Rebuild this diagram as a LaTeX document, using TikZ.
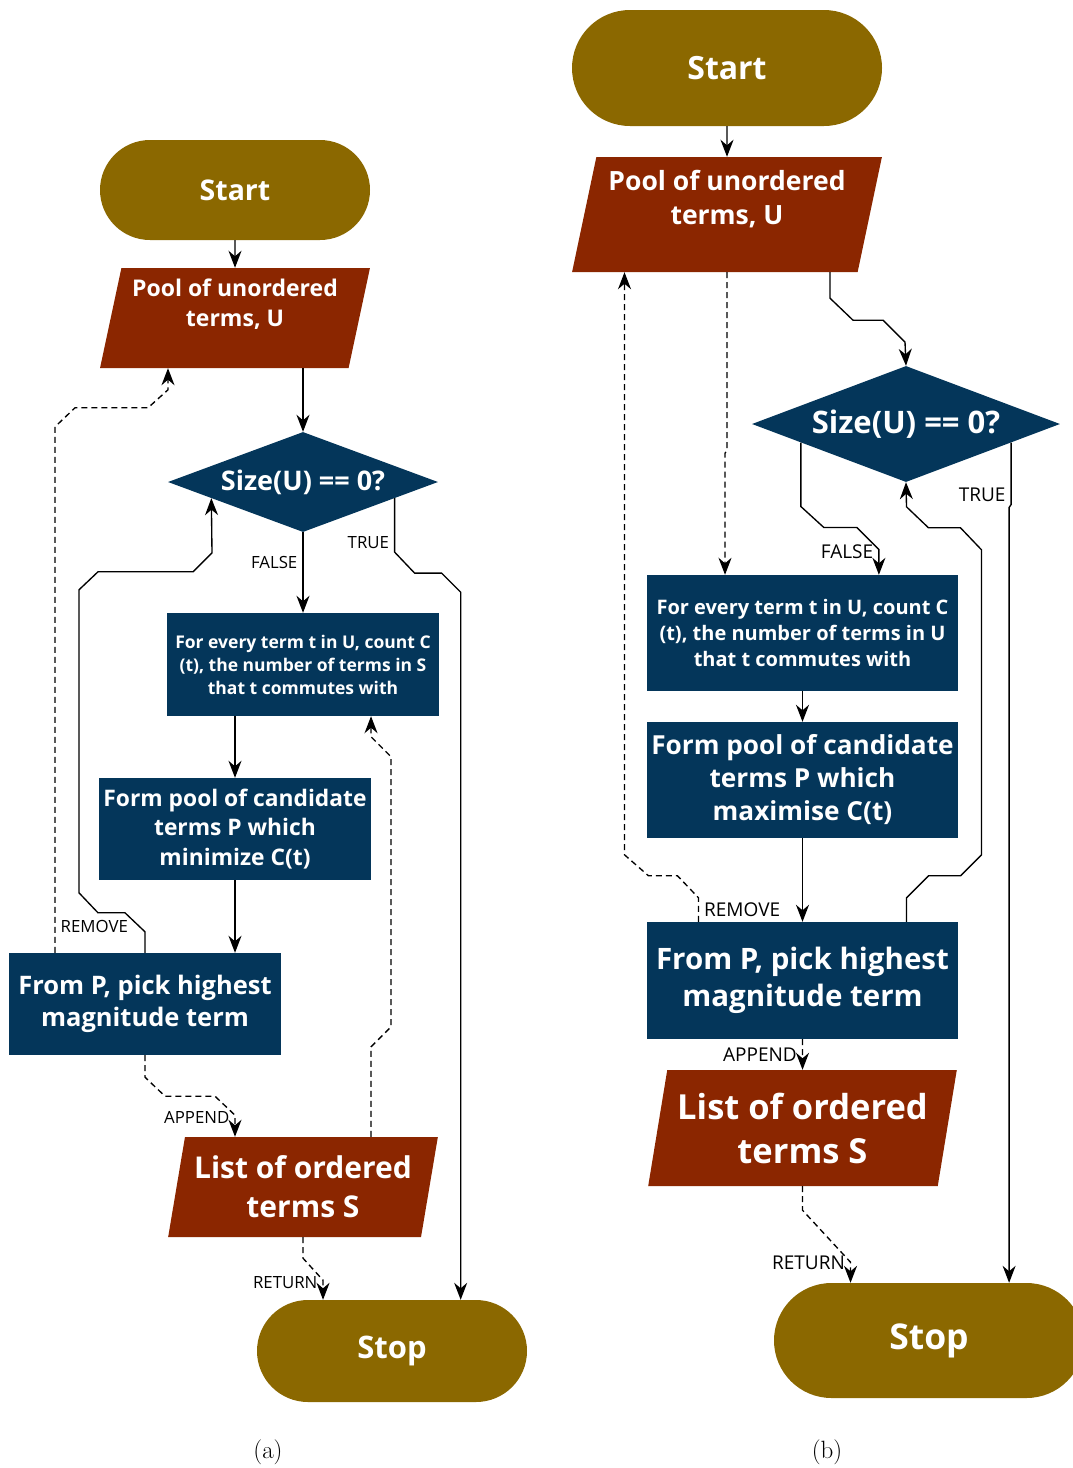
\documentclass[tikz,border=0pt]{standalone}
\usepackage{fontspec}
\setsansfont{Open Sans}
\usetikzlibrary{positioning}
\usetikzlibrary{shapes.misc, shapes.geometric, arrows.meta}

\definecolor{termgold}{RGB}{139,104,0}
\definecolor{iorust}{RGB}{139,38,0}
\definecolor{procnavy}{RGB}{4,54,90}
\newcommand{\boxfont}[2]{\sffamily\bfseries\fontsize{#1}{#2}\selectfont}

\begin{document}
\begin{tikzpicture}[x=1pt,y=-1pt,
  term/.style={rounded rectangle, fill=termgold, text=white, inner sep=0pt},
  io/.style={trapezium, trapezium left angle=76, trapezium right angle=104,
    trapezium stretches=true, fill=iorust, text=white, align=center, inner sep=0pt},
  decision/.style={diamond, fill=procnavy, text=white, inner sep=0pt},
  process/.style={rectangle, fill=procnavy, text=white, align=center, inner sep=0pt},
  flow/.style={line width=1.35pt, -{Stealth[length=17pt,width=13pt,inset=5.5pt]}},
  dflow/.style={flow, dash pattern=on 6pt off 4pt},
  lblA/.style={font=\sffamily\fontsize{16.8}{19}\selectfont, inner xsep=5pt, inner ysep=1pt},
  lblB/.style={font=\sffamily\fontsize{19}{21}\selectfont, inner xsep=5pt, inner ysep=1pt}]
\useasboundingbox (0,0) rectangle (1073,1468);

% (a)
\node[term, minimum width=270pt, minimum height=100pt, font=\boxfont{28.5}{34}] (startA) at (235,190) {Start};
\node[io, minimum width=270pt, minimum height=100pt, font=\boxfont{23}{30}] (poolA) at (235,318) {Pool of unordered\\terms, U\\\mbox{}};
\node[decision, aspect=2.7, minimum width=270pt, minimum height=100pt, font=\boxfont{27}{30}] (diamA) at (303,482) {Size(U) == 0?};
\node[process, minimum width=272pt, minimum height=103pt, font=\boxfont{17.5}{23}] (boxA1) at (303,664.5) {For every term t in U, count C\\(t), the number of terms in S\\that t commutes with};
\node[process, minimum width=272pt, minimum height=102pt, font=\boxfont{22.8}{29.5}] (boxA2) at (235,829) {Form pool of candidate\\terms P which\\minimize C(t)};
\node[process, minimum width=272pt, minimum height=102pt, font=\boxfont{25.5}{32}] (boxA3) at (145,1004) {From P, pick highest\\magnitude term};
\node[io, minimum width=270pt, minimum height=100pt, font=\boxfont{30}{39}] (listA) at (303,1187) {List of ordered\\terms S};
\node[term, minimum width=270pt, minimum height=102pt, font=\boxfont{31}{36}] (stopA) at (392,1351) {Stop};
\node[font=\fontsize{25}{28}\selectfont] (capA) at (268,1452) {(a)};

\draw[flow] (startA.south) -- (poolA.north);
\draw[flow] (poolA.south -| diamA.north) -- (diamA.north);
\draw[flow] (diamA.south) -- node[lblA, left, pos=0.38] {FALSE} (boxA1.north);
\draw[flow] (diamA.350) -- ++(0,54) node[lblA, left, pos=0.82] {TRUE} -- ++(20,21) -- ++(27,0) -- ++(19,19) coordinate (trueA) -- (trueA |- stopA.north);
\draw[flow] (boxA1.south -| boxA2.north) -- (boxA2.north);
\draw[flow] (boxA2.south) -- (boxA2.south |- boxA3.north);
\draw[flow] (boxA3.north) -- ++(0,-21) -- ++(-20,-19) -- ++(-27,0) -- ++(-19,-20) -- ++(0,-303) -- ++(19,-18) -- ++(95,0) -- ++(19,-19) -- (diamA.190);
\draw[dflow] ([xshift=-90pt]boxA3.north) -- ++(0,-526) node[lblA, right, pos=0.05] {REMOVE} -- ++(20,-19) -- ++(73,0) -- ++(20,-18) coordinate (remA) -- (remA |- poolA.south);
\draw[dflow] (boxA3.south) -- ++(0,22) -- ++(20,19) -- ++(50,0) -- ++(20,19) coordinate (appA) -- node[lblA, left, pos=0.1] {APPEND} (appA |- listA.north);
\draw[dflow] ([xshift=68pt]listA.north) -- ++(0,-90) -- ++(20,-20) -- ++(0,-270) -- ++(-20,-20) coordinate (cntA) -- (cntA |- boxA1.south);
\draw[dflow] (listA.south) -- ++(0,21) -- ++(20,22) coordinate (retA) -- node[lblA, left, pos=0.1] {RETURN} (retA |- stopA.north);

% (b)
\node[term, minimum width=310pt, minimum height=116pt, font=\boxfont{32}{40}] (startB) at (727,68) {Start};
\node[io, minimum width=310pt, minimum height=115pt, font=\boxfont{26.5}{34}] (poolB) at (727,214.5) {Pool of unordered\\terms, U\\\mbox{}};
\node[decision, aspect=2.66, minimum width=308pt, minimum height=116pt, font=\boxfont{31}{34}] (diamB) at (906,424) {Size(U) == 0?};
\node[process, minimum width=311pt, minimum height=116pt, font=\boxfont{20}{26}] (boxB1) at (802.5,633) {For every term t in U, count C\\(t), the number of terms in U\\that t commutes with};
\node[process, minimum width=311pt, minimum height=116pt, font=\boxfont{26.2}{33}] (boxB2) at (802.5,780) {Form pool of candidate\\terms P which\\maximise C(t)};
\node[process, minimum width=311pt, minimum height=117pt, font=\boxfont{29.5}{37}] (boxB3) at (802.5,980.5) {From P, pick highest\\magnitude term};
\node[io, minimum width=309pt, minimum height=116pt, font=\boxfont{34.5}{44}] (listB) at (802.5,1128) {List of ordered\\terms S};
\node[term, minimum width=310pt, minimum height=115pt, font=\boxfont{35.5}{40}] (stopB) at (929,1340.5) {Stop};
\node[font=\fontsize{25}{28}\selectfont] (capB) at (827,1452) {(b)};

\draw[flow] (startB.south) -- (poolB.north);
\draw[flow] ([xshift=103pt]poolB.south) -- ++(0,26) -- ++(23,22) -- ++(30,0) -- ++(22,22) -- (diamB.north);
\draw[dflow] (poolB.south) -- ++(0,178) -- ++(-2,3) coordinate (cntB) -- (cntB |- boxB1.north);
\draw[flow] (diamB.190) -- ++(0,64) -- ++(23,21) -- ++(33,0) -- ++(22,22) coordinate (falseB) -- node[lblB, left, pos=0.1] {FALSE} (falseB |- boxB1.north);
\draw[flow] (diamB.350) -- ++(0,62) node[lblB, left, pos=0.85] {TRUE} -- ++(-2,3) coordinate (trueB) -- (trueB |- stopB.north);
\draw[flow] (boxB1.south) -- (boxB2.north);
\draw[flow] (boxB2.south) -- (boxB3.north);
\draw[flow] ([xshift=104pt]boxB3.north) -- ++(0,-24) -- ++(22,-22) -- ++(32,0) -- ++(21,-21) -- ++(0,-305) -- ++(-21,-22) -- ++(-32,0) -- ++(-22,-21) -- (diamB.south);
\draw[dflow] ([xshift=-104pt]boxB3.north) -- ++(0,-24) node[lblB, right, pos=0.5] {REMOVE} -- ++(-21,-22) -- ++(-29,0) -- ++(-24,-21) coordinate (remB) -- (remB |- poolB.south);
\draw[dflow] (boxB3.south) -- node[lblB, left, pos=0.5] {APPEND} (listB.north);
\draw[dflow] (listB.south) -- ++(0,24) -- ++(48,52) coordinate (retB) -- node[lblB, left, pos=0.05] {RETURN} (retB |- stopB.north);
\end{tikzpicture}
\end{document}
